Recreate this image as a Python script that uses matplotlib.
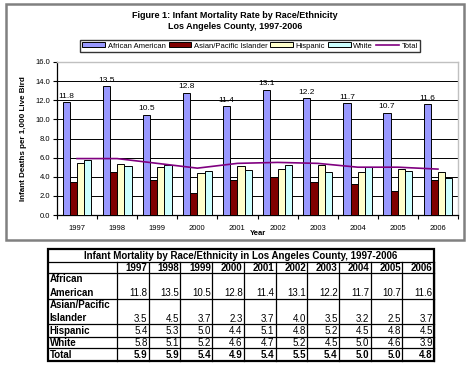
import matplotlib
matplotlib.use("Agg")
import matplotlib.pyplot as plt
import numpy as np
from matplotlib.patches import Rectangle, Patch
from matplotlib.lines import Line2D

plt.rcParams['font.family'] = ['Liberation Sans', 'DejaVu Sans']

years = ['1997', '1998', '1999', '2000', '2001', '2002', '2003', '2004', '2005', '2006']
african_american = [11.8, 13.5, 10.5, 12.8, 11.4, 13.1, 12.2, 11.7, 10.7, 11.6]
asian_pacific = [3.5, 4.5, 3.7, 2.3, 3.7, 4.0, 3.5, 3.2, 2.5, 3.7]
hispanic = [5.4, 5.3, 5.0, 4.4, 5.1, 4.8, 5.2, 4.5, 4.8, 4.5]
white = [5.8, 5.1, 5.2, 4.6, 4.7, 5.2, 4.5, 5.0, 4.6, 3.9]
total = [5.9, 5.9, 5.4, 4.9, 5.4, 5.5, 5.4, 5.0, 5.0, 4.8]

series_names = ['African American', 'Asian/Pacific Islander', 'Hispanic', 'White']
series_vals = [african_american, asian_pacific, hispanic, white]
series_colors = ['#9999FF', '#800000', '#FFFFCC', '#CCFFFF']
total_color = '#800080'

W, H = 471, 366
fig = plt.figure(figsize=(W / 100, H / 100), dpi=100)

# overlay axes in pixel coordinates
ov = fig.add_axes([0, 0, 1, 1], zorder=0)
ov.set_xlim(0, W)
ov.set_ylim(H, 0)
ov.axis('off')

# chart outer border
ov.add_patch(Rectangle((6, 4), 458, 236, fill=False, edgecolor='#808080', lw=1.8))

# titles
ov.text(235, 15, 'Figure 1: Infant Mortality Rate by Race/Ethnicity', ha='center', va='center',
        fontsize=6.5, fontweight='bold')
ov.text(235, 26.5, 'Los Angeles County, 1997-2006', ha='center', va='center',
        fontsize=6.5, fontweight='bold')

# main plot
ax = fig.add_axes([57 / W, 1 - 215 / H, (458 - 57) / W, (215 - 62) / H], zorder=1)
x = np.arange(len(years))
bw = 0.18
for i, (vals, col) in enumerate(zip(series_vals, series_colors)):
    ax.bar(x + (i - 1.5) * bw, vals, width=bw, color=col, edgecolor='black', lw=0.7, zorder=3)
ax.plot(x, total, color=total_color, lw=1.2, zorder=4)
for xi, v in zip(x, african_american):
    ax.text(xi - 1.5 * bw, v + 0.25, f'{v:.1f}', ha='center', va='bottom', fontsize=6, zorder=5)

ax.set_xlim(-0.5, len(years) - 0.5)
ax.set_ylim(0, 16)
ax.set_yticks(np.arange(0, 16.1, 2))
ax.set_yticklabels([f'{t:.1f}' for t in np.arange(0, 16.1, 2)], fontsize=5.5)
ax.set_xticks(x)
ax.set_xticklabels(years, fontsize=5.5)
ax.tick_params(axis='x', length=0, pad=7)
ax.set_xticks(np.arange(-0.5, len(years), 1), minor=True)
ax.tick_params(axis='x', which='minor', length=3, width=0.8, direction='out')
ax.tick_params(axis='y', length=3, width=0.8, pad=2)
ax.grid(axis='y', color='black', lw=0.7, zorder=0)
ax.set_axisbelow(True)
for s in ['top', 'right']:
    ax.spines[s].set_color('#C0C0C0')
    ax.spines[s].set_linewidth(1.0)
for s in ['left', 'bottom']:
    ax.spines[s].set_color('black')
    ax.spines[s].set_linewidth(0.9)
ax.set_xlabel('Year', fontsize=5.5, fontweight='bold', labelpad=-1.5)
ax.set_ylabel('Infant Deaths per 1,000 Live Bird', fontsize=5.8, fontweight='bold', labelpad=6)

# legend
handles = [Patch(facecolor=c, edgecolor='black', lw=0.7) for c in series_colors]
handles.append(Line2D([0], [0], color=total_color, lw=1.2))
leg = fig.legend(handles, series_names + ['Total'], loc='center', bbox_to_anchor=(250 / W, 1 - 46 / H),
                 ncol=5, fontsize=5.5, frameon=True, fancybox=False, edgecolor='black',
                 handlelength=3.0, handleheight=0.6, handletextpad=0.3, columnspacing=0.4,
                 borderpad=0.3)
leg.get_frame().set_linewidth(1.0)

# table
tab_left, tab_right = 48, 434
label_right = 117
col_edges = np.linspace(label_right, tab_right, len(years) + 1)
row_edges = [249, 262, 273, 299, 324, 337, 348, 361]
tab = fig.add_axes([0, 0, 1, 1], zorder=2)
tab.set_xlim(0, W)
tab.set_ylim(H, 0)
tab.axis('off')
fs = 7.0

tab.add_patch(Rectangle((tab_left, row_edges[0]), tab_right - tab_left, row_edges[-1] - row_edges[0],
                        fill=False, edgecolor='black', lw=1.6))
tab.text((tab_left + tab_right) / 2, (row_edges[0] + row_edges[1]) / 2 + 0.5,
         'Infant Mortality by Race/Ethnicity in Los Angeles County, 1997-2006',
         ha='center', va='center', fontsize=fs, fontweight='bold')
for yy in row_edges[1:-1]:
    tab.plot([tab_left, tab_right], [yy, yy], color='black', lw=0.9)
for xx in col_edges:
    tab.plot([xx, xx], [row_edges[1], row_edges[-1]], color='black', lw=0.9)

# header years
for j, yr in enumerate(years):
    tab.text(col_edges[j + 1] - 1.2, (row_edges[1] + row_edges[2]) / 2 + 0.5, yr, ha='right', va='center',
             fontsize=fs, fontweight='bold')

row_labels = ['African\nAmerican', 'Asian/Pacific\nIslander', 'Hispanic', 'White', 'Total']
row_vals = [african_american, asian_pacific, hispanic, white, total]
for r, (lab, vals) in enumerate(zip(row_labels, row_vals)):
    top, bot = row_edges[r + 2], row_edges[r + 3]
    bold = 'bold' if lab == 'Total' else 'normal'
    if '\n' in lab:
        l1, l2 = lab.split('\n')
        tab.text(tab_left + 1.5, top + 6, l1, ha='left', va='center', fontsize=fs, fontweight='bold')
        tab.text(tab_left + 1.5, bot - 6, l2, ha='left', va='center', fontsize=fs, fontweight='bold')
        vy = bot - 5.5
    else:
        tab.text(tab_left + 1.5, (top + bot) / 2, lab, ha='left', va='center', fontsize=fs, fontweight='bold')
        vy = (top + bot) / 2 + 0.5
    for j, v in enumerate(vals):
        tab.text(col_edges[j + 1] - 1.2, vy, f'{v:.1f}', ha='right', va='center', fontsize=fs,
                 fontweight=bold)

fig.savefig('out.png', dpi=100)
